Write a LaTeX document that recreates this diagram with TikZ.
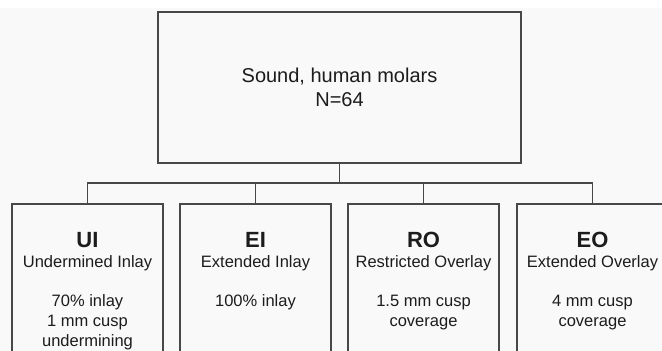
\documentclass[tikz,border=0pt]{standalone}
\usepackage{fontspec}
\setmainfont{Liberation Sans}
\definecolor{bg}{HTML}{F9F9F9}
\definecolor{ln}{HTML}{484848}
\definecolor{tx}{HTML}{1C1C1C}
\begin{document}
\begin{tikzpicture}[x=1pt,y=-1pt,
  box/.style={draw=ln, line width=1.3pt, fill=bg, rectangle, inner sep=0pt},
  conn/.style={draw=ln, line width=1.3pt},
  childtext/.style={anchor=north, align=center, text=tx, inner sep=0pt,
     font=\fontsize{16.5}{19.8}\selectfont}
]
\useasboundingbox (0,0) rectangle (662,351);
\clip (0,0) rectangle (662,351);
\fill[white] (0,0) rectangle (662,351);
\fill[bg] (0,8) rectangle (662,351);

\node[box, minimum width=363pt, minimum height=151pt, align=center, text=tx,
  font=\fontsize{20}{24}\selectfont] (top) at (339.5,87.5) {Sound, human molars\\N=64};

\node[box, minimum width=151pt, minimum height=200pt] (c1) at (87.5,304) {};
\node[box, minimum width=151pt, minimum height=200pt] (c2) at (255.5,304) {};
\node[box, minimum width=151pt, minimum height=200pt] (c3) at (423.5,304) {};
\node[box, minimum width=151pt, minimum height=200pt] (c4) at (592.5,304) {};

\coordinate (bus) at (339.5,183);
\draw[conn] (top.south) -- (top.south |- bus);
\draw[conn] (c1.north) -- (c1.north |- bus) -- (c4.north |- bus) -- (c4.north);
\draw[conn] (c2.north) -- (c2.north |- bus);
\draw[conn] (c3.north) -- (c3.north |- bus);

\node[childtext] (t1) at (87.5,232) {{\fontsize{22}{19.8}\selectfont\bfseries UI}\\Undermined Inlay\\[19.8pt]70\% inlay\\1 mm cusp\\undermining};
\node[childtext] (t2) at (255.5,232) {{\fontsize{22}{19.8}\selectfont\bfseries EI}\\Extended Inlay\\[19.8pt]100\% inlay};
\node[childtext] (t3) at (423.5,232) {{\fontsize{22}{19.8}\selectfont\bfseries RO}\\Restricted Overlay\\[19.8pt]1.5 mm cusp\\coverage};
\node[childtext] (t4) at (592.5,232) {{\fontsize{22}{19.8}\selectfont\bfseries EO}\\Extended Overlay\\[19.8pt]4 mm cusp\\coverage};
\end{tikzpicture}
\end{document}
